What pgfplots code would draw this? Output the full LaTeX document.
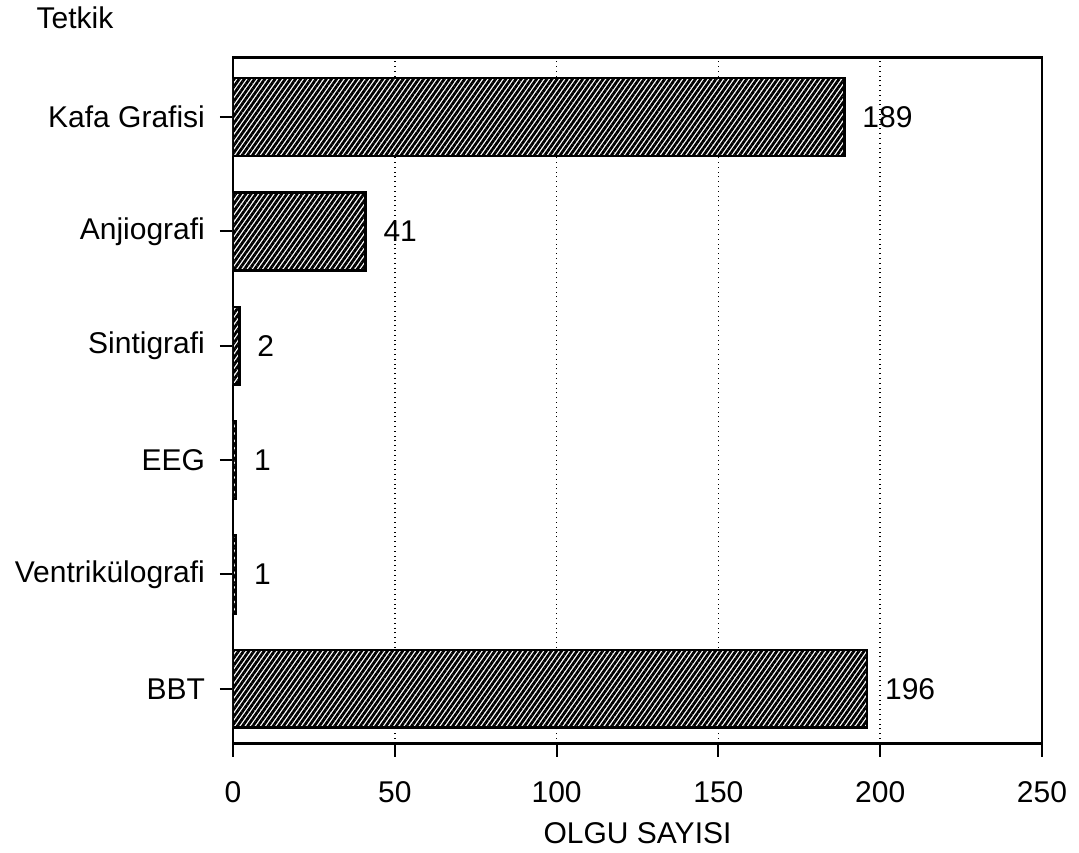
\documentclass[border=0pt]{standalone}
\usepackage{fontspec}
\setmainfont{Liberation Sans}
\usepackage{pgfplots}
\pgfplotsset{compat=1.18}
\usetikzlibrary{patterns.meta}
\begin{document}
\begin{tikzpicture}
\begin{axis}[
  name=ax,
  scale only axis,
  width=404.5pt, height=343pt,
  xbar, bar width=0.68,
  xmin=0, xmax=250, ymin=-0.48, ymax=5.52,
  xtick={0,50,100,150,200,250},
  ytick={0,1,2,3,4,5},
  yticklabels={BBT,Ventrikülografi,EEG,Sintigrafi,Anjiografi,Kafa Grafisi},
  xtick pos=bottom, ytick pos=left,
  tick align=outside,
  major tick length=6.5pt,
  tick style={black, line width=1pt},
  axis line style={line width=1.3pt},
  xmajorgrids,
  grid style={dotted, black, line width=0.8pt},
  font=\fontsize{15}{18}\selectfont,
  /pgf/number format/assume math mode=true,
  xticklabel style={yshift=-9pt},
  yticklabel style={xshift=-4pt},
  xlabel={OLGU SAYISI},
  xlabel style={at={(axis description cs:0.5,0)}, anchor=center, yshift=-44.5pt},
  nodes near coords,
  nodes near coords style={font=\fontsize{15}{18}\selectfont, xshift=5pt, black},
]
\addplot[draw=black, line width=1.2pt, preaction={fill=white},
  pattern={Lines[angle=55, distance=2.1pt, line width=1.4pt]}, pattern color=black]
  coordinates {(196,0) (1,1) (1,2) (2,3) (41,4) (189,5)};
\end{axis}
\node[font=\fontsize{15}{18}\selectfont, anchor=center] at ([shift={(-79pt,20pt)}]ax.north west) {Tetkik};
\path[use as bounding box] ([shift={(-116.5pt,-54.5pt)}]ax.south west) rectangle ([shift={(18.5pt,28.5pt)}]ax.north east);
\end{tikzpicture}
\end{document}
